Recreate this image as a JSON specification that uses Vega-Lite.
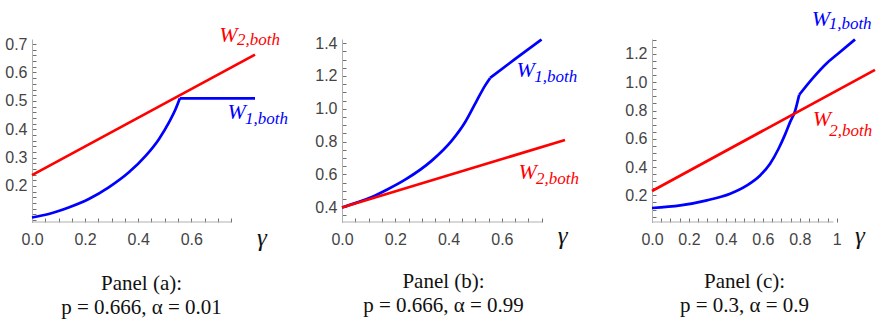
{
  "$schema": "https://vega.github.io/schema/vega-lite/v6.json",
  "background": "white",
  "padding": {"left": 4, "top": 7, "right": 2, "bottom": 2},
  "spacing": 87,
  "bounds": "flush",
  "config": {
    "view": {"stroke": null},
    "axis": {"grid": false, "title": null, "labelFlush": false, "labelOverlap": false, "labelFont": "Liberation Sans Narrow, Liberation Sans", "labelFontSize": 16, "labelColor": "#444444", "domainColor": "#b0b0b0", "tickColor": "#707070", "tickWidth": 1},
    "title": {"font": "Liberation Serif", "fontSize": 21, "fontWeight": "normal", "color": "#111111", "lineHeight": 24, "orient": "bottom", "anchor": "middle"}
  },
  "hconcat": [
    {
      "width": 223, "height": 183,
      "title": {"text": ["Panel (a):", "p = 0.666, α = 0.01"], "dx": -2, "offset": 22},
      "encoding": {
        "x": {"field": "g", "type": "quantitative", "scale": {"domain": [0, 0.84], "nice": false, "zero": false},
          "axis": {"domain": false, "values": [0,0.05,0.1,0.15,0.2,0.25,0.3,0.35,0.4,0.45,0.5,0.55,0.6,0.65,0.7,0.75],
            "labelExpr": "abs(datum.value*5 - round(datum.value*5)) < 0.001 ? format(datum.value, '.1f') : ''",
            "tickSize": -4, "labelPadding": 13}},
        "y": {"field": "w", "type": "quantitative", "scale": {"domain": [0.073, 0.718], "nice": false, "zero": false},
          "axis": {"values": [0.08,0.1,0.12,0.14,0.16,0.18,0.2,0.22,0.24,0.26,0.28,0.3,0.32,0.34,0.36,0.38,0.4,0.42,0.44,0.46,0.48,0.5,0.52,0.54,0.56,0.58,0.6,0.62,0.64,0.66,0.68,0.7],
            "labelExpr": "abs(datum.value*10 - round(datum.value*10)) < 0.001 && datum.value > 0.15 ? format(datum.value, '.1f') : ''",
            "tickSize": -4, "labelPadding": 9}}
      },
      "layer": [
        {
          "data": {"values": [
            {"s": "W1", "seg": "a", "g": 0, "w": 0.089}, {"s": "W1", "seg": "a", "g": 0.063, "w": 0.101}, {"s": "W1", "seg": "a", "g": 0.138, "w": 0.124},
            {"s": "W1", "seg": "a", "g": 0.214, "w": 0.154}, {"s": "W1", "seg": "a", "g": 0.289, "w": 0.195}, {"s": "W1", "seg": "a", "g": 0.365, "w": 0.248},
            {"s": "W1", "seg": "a", "g": 0.428, "w": 0.306}, {"s": "W1", "seg": "a", "g": 0.478, "w": 0.365}, {"s": "W1", "seg": "a", "g": 0.516, "w": 0.424},
            {"s": "W1", "seg": "a", "g": 0.541, "w": 0.471}, {"s": "W1", "seg": "a", "g": 0.557, "w": 0.509},
            {"s": "W1", "seg": "b", "g": 0.557, "w": 0.509}, {"s": "W1", "seg": "b", "g": 0.84, "w": 0.509},
            {"s": "W2", "seg": "c", "g": 0, "w": 0.238}, {"s": "W2", "seg": "c", "g": 0.84, "w": 0.663}
          ]},
          "mark": {"type": "line", "interpolate": "monotone", "strokeWidth": 2.7},
          "encoding": {"detail": {"field": "seg"}, "color": {"field": "s", "type": "nominal", "scale": {"domain": ["W1", "W2"], "range": ["#0000ff", "#ff0000"]}, "legend": null}}
        },
        {
          "data": {"values": [{"g": 0, "g2": 0.75, "w": 0.073}]},
          "mark": {"type": "rule", "color": "#b0b0b0", "strokeWidth": 1},
          "encoding": {"x2": {"field": "g2"}}
        },
        {
          "data": {"values": [{"s": "W2", "g": 0.705, "w": 0.706, "t": "W"}, {"s": "W1", "g": 0.736, "w": 0.436, "t": "W"}]},
          "mark": {"type": "text", "font": "Liberation Serif", "fontStyle": "italic", "fontSize": 22, "align": "left", "baseline": "alphabetic"},
          "encoding": {"text": {"field": "t"}, "color": {"field": "s", "type": "nominal", "legend": null}}
        },
        {
          "data": {"values": [{"s": "W2", "g": 0.772, "w": 0.697, "t": "2,both"}, {"s": "W1", "g": 0.802, "w": 0.419, "t": "1,both"}]},
          "mark": {"type": "text", "font": "Liberation Serif", "fontStyle": "italic", "fontSize": 17, "align": "left", "baseline": "alphabetic"},
          "encoding": {"text": {"field": "t"}, "color": {"field": "s", "type": "nominal", "legend": null}}
        },
        {
          "data": {"values": [{"g": 0.848, "w": -0.01, "t": "γ"}]},
          "mark": {"type": "text", "font": "Liberation Serif", "fontStyle": "italic", "fontSize": 25, "align": "left", "baseline": "alphabetic", "color": "#111111"},
          "encoding": {"text": {"field": "t"}}
        }
      ]
    },
    {
      "width": 223, "height": 183,
      "title": {"text": ["Panel (b):", "p = 0.666, α = 0.99"], "dx": -10, "offset": 22},
      "encoding": {
        "x": {"field": "g", "type": "quantitative", "scale": {"domain": [0, 0.837], "nice": false, "zero": false},
          "axis": {"domain": false, "values": [0,0.05,0.1,0.15,0.2,0.25,0.3,0.35,0.4,0.45,0.5,0.55,0.6,0.65,0.7,0.75],
            "labelExpr": "abs(datum.value*5 - round(datum.value*5)) < 0.001 ? format(datum.value, '.1f') : ''",
            "tickSize": -4, "labelPadding": 13}},
        "y": {"field": "w", "type": "quantitative", "scale": {"domain": [0.31, 1.425], "nice": false, "zero": false},
          "axis": {"values": [0.35,0.4,0.45,0.5,0.55,0.6,0.65,0.7,0.75,0.8,0.85,0.9,0.95,1,1.05,1.1,1.15,1.2,1.25,1.3,1.35,1.4],
            "labelExpr": "abs(datum.value*5 - round(datum.value*5)) < 0.001 ? format(datum.value, '.1f') : ''",
            "tickSize": -4, "labelPadding": 9}}
      },
      "layer": [
        {
          "data": {"values": [
            {"s": "W1", "seg": "a", "g": 0, "w": 0.398}, {"s": "W1", "seg": "a", "g": 0.05, "w": 0.425}, {"s": "W1", "seg": "a", "g": 0.112, "w": 0.462},
            {"s": "W1", "seg": "a", "g": 0.17, "w": 0.508}, {"s": "W1", "seg": "a", "g": 0.237, "w": 0.568}, {"s": "W1", "seg": "a", "g": 0.337, "w": 0.684},
            {"s": "W1", "seg": "a", "g": 0.412, "w": 0.806}, {"s": "W1", "seg": "a", "g": 0.462, "w": 0.918}, {"s": "W1", "seg": "a", "g": 0.506, "w": 1.05},
            {"s": "W1", "seg": "a", "g": 0.537, "w": 1.141}, {"s": "W1", "seg": "a", "g": 0.556, "w": 1.188},
            {"s": "W1", "seg": "b", "g": 0.556, "w": 1.188}, {"s": "W1", "seg": "b", "g": 0.649, "w": 1.302}, {"s": "W1", "seg": "b", "g": 0.749, "w": 1.422},
            {"s": "W2", "seg": "c", "g": 0, "w": 0.398}, {"s": "W2", "seg": "c", "g": 0.837, "w": 0.81}
          ]},
          "mark": {"type": "line", "interpolate": "monotone", "strokeWidth": 2.7},
          "encoding": {"detail": {"field": "seg"}, "color": {"field": "s", "type": "nominal", "scale": {"domain": ["W1", "W2"], "range": ["#0000ff", "#ff0000"]}, "legend": null}}
        },
        {
          "data": {"values": [{"g": 0, "g2": 0.75, "w": 0.31}]},
          "mark": {"type": "rule", "color": "#b0b0b0", "strokeWidth": 1},
          "encoding": {"x2": {"field": "g2"}}
        },
        {
          "data": {"values": [{"s": "W1", "g": 0.655, "w": 1.193, "t": "W"}, {"s": "W2", "g": 0.662, "w": 0.573, "t": "W"}]},
          "mark": {"type": "text", "font": "Liberation Serif", "fontStyle": "italic", "fontSize": 22, "align": "left", "baseline": "alphabetic"},
          "encoding": {"text": {"field": "t"}, "color": {"field": "s", "type": "nominal", "legend": null}}
        },
        {
          "data": {"values": [{"s": "W1", "g": 0.722, "w": 1.164, "t": "1,both"}, {"s": "W2", "g": 0.728, "w": 0.542, "t": "2,both"}]},
          "mark": {"type": "text", "font": "Liberation Serif", "fontStyle": "italic", "fontSize": 17, "align": "left", "baseline": "alphabetic"},
          "encoding": {"text": {"field": "t"}, "color": {"field": "s", "type": "nominal", "legend": null}}
        },
        {
          "data": {"values": [{"g": 0.81, "w": 0.176, "t": "γ"}]},
          "mark": {"type": "text", "font": "Liberation Serif", "fontStyle": "italic", "fontSize": 25, "align": "left", "baseline": "alphabetic", "color": "#111111"},
          "encoding": {"text": {"field": "t"}}
        }
      ]
    },
    {
      "width": 223, "height": 183,
      "title": {"text": ["Panel (c):", "p = 0.3, α = 0.9"], "dx": -19, "offset": 22},
      "encoding": {
        "x": {"field": "g", "type": "quantitative", "scale": {"domain": [0, 1.207], "nice": false, "zero": false},
          "axis": {"domain": false, "values": [0,0.05,0.1,0.15,0.2,0.25,0.3,0.35,0.4,0.45,0.5,0.55,0.6,0.65,0.7,0.75,0.8,0.85,0.9,0.95,1],
            "labelExpr": "abs(datum.value*5 - round(datum.value*5)) < 0.001 ? (datum.value == 1 ? '1' : format(datum.value, '.1f')) : ''",
            "tickSize": -4, "labelPadding": 13}},
        "y": {"field": "w", "type": "quantitative", "scale": {"domain": [0.012, 1.306], "nice": false, "zero": false},
          "axis": {"values": [0.05,0.1,0.15,0.2,0.25,0.3,0.35,0.4,0.45,0.5,0.55,0.6,0.65,0.7,0.75,0.8,0.85,0.9,0.95,1,1.05,1.1,1.15,1.2,1.25,1.3],
            "labelExpr": "abs(datum.value*5 - round(datum.value*5)) < 0.001 ? format(datum.value, '.1f') : ''",
            "tickSize": -4, "labelPadding": 9}}
      },
      "layer": [
        {
          "data": {"values": [
            {"s": "W1", "seg": "a", "g": 0, "w": 0.111}, {"s": "W1", "seg": "a", "g": 0.153, "w": 0.129}, {"s": "W1", "seg": "a", "g": 0.297, "w": 0.165},
            {"s": "W1", "seg": "a", "g": 0.423, "w": 0.212}, {"s": "W1", "seg": "a", "g": 0.514, "w": 0.271}, {"s": "W1", "seg": "a", "g": 0.585, "w": 0.341},
            {"s": "W1", "seg": "a", "g": 0.639, "w": 0.424}, {"s": "W1", "seg": "a", "g": 0.685, "w": 0.53}, {"s": "W1", "seg": "a", "g": 0.72, "w": 0.63},
            {"s": "W1", "seg": "a", "g": 0.748, "w": 0.72}, {"s": "W1", "seg": "a", "g": 0.775, "w": 0.8}, {"s": "W1", "seg": "a", "g": 0.79, "w": 0.875},
            {"s": "W1", "seg": "a", "g": 0.797, "w": 0.912},
            {"s": "W1", "seg": "b", "g": 0.797, "w": 0.912}, {"s": "W1", "seg": "b", "g": 0.874, "w": 1.035}, {"s": "W1", "seg": "b", "g": 0.946, "w": 1.135},
            {"s": "W1", "seg": "b", "g": 1.0, "w": 1.195}, {"s": "W1", "seg": "b", "g": 1.099, "w": 1.303},
            {"s": "W2", "seg": "c", "g": 0, "w": 0.231}, {"s": "W2", "seg": "c", "g": 1.207, "w": 1.088}
          ]},
          "mark": {"type": "line", "interpolate": "monotone", "strokeWidth": 2.7},
          "encoding": {"detail": {"field": "seg"}, "color": {"field": "s", "type": "nominal", "scale": {"domain": ["W1", "W2"], "range": ["#0000ff", "#ff0000"]}, "legend": null}}
        },
        {
          "data": {"values": [{"g": 0, "g2": 0.982, "w": 0.012}]},
          "mark": {"type": "rule", "color": "#b0b0b0", "strokeWidth": 1},
          "encoding": {"x2": {"field": "g2"}}
        },
        {
          "data": {"values": [{"s": "W1", "g": 0.865, "w": 1.4, "t": "W"}, {"s": "W2", "g": 0.87, "w": 0.694, "t": "W"}]},
          "mark": {"type": "text", "font": "Liberation Serif", "fontStyle": "italic", "fontSize": 22, "align": "left", "baseline": "alphabetic"},
          "encoding": {"text": {"field": "t"}, "color": {"field": "s", "type": "nominal", "legend": null}}
        },
        {
          "data": {"values": [{"s": "W1", "g": 0.956, "w": 1.376, "t": "1,both"}, {"s": "W2", "g": 0.96, "w": 0.623, "t": "2,both"}]},
          "mark": {"type": "text", "font": "Liberation Serif", "fontStyle": "italic", "fontSize": 17, "align": "left", "baseline": "alphabetic"},
          "encoding": {"text": {"field": "t"}, "color": {"field": "s", "type": "nominal", "legend": null}}
        },
        {
          "data": {"values": [{"g": 1.099, "w": -0.141, "t": "γ"}]},
          "mark": {"type": "text", "font": "Liberation Serif", "fontStyle": "italic", "fontSize": 25, "align": "left", "baseline": "alphabetic", "color": "#111111"},
          "encoding": {"text": {"field": "t"}}
        }
      ]
    }
  ]
}
